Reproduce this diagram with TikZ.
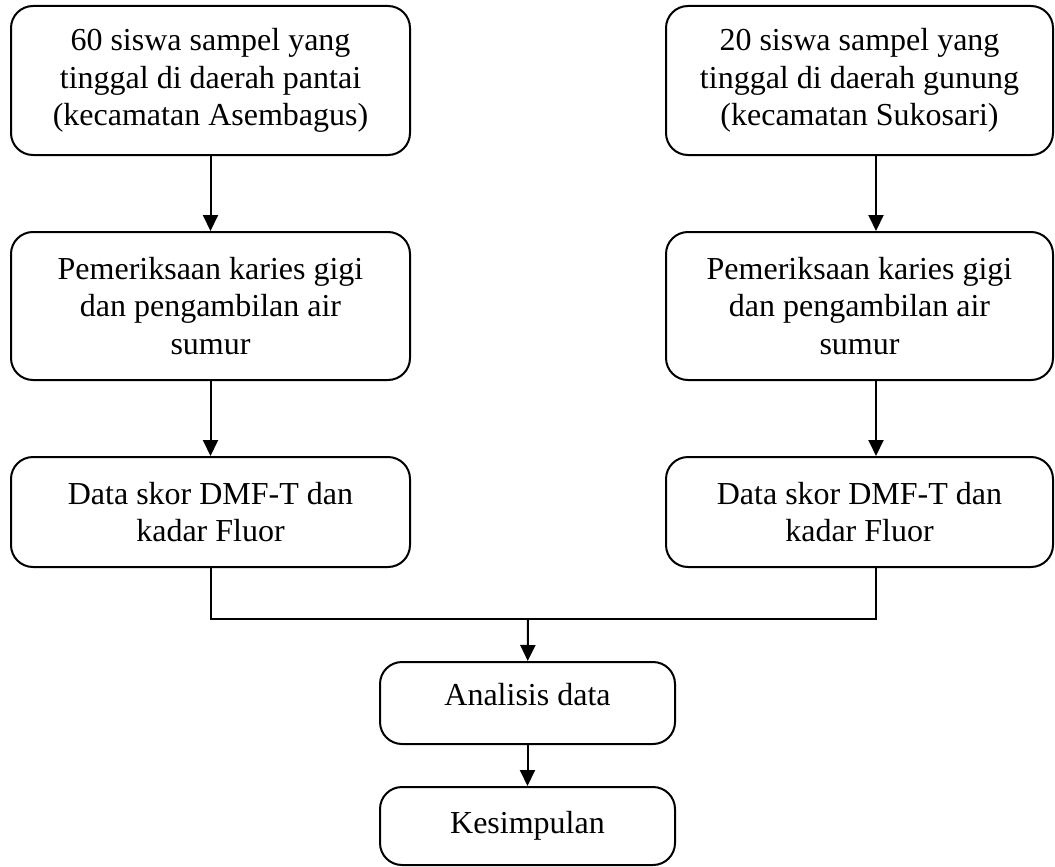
\documentclass[tikz,border=0pt]{standalone}
\usepackage{fontspec}
\setmainfont{Liberation Serif}
\usetikzlibrary{positioning,arrows.meta,calc}

\begin{document}
\begin{tikzpicture}[x=1pt,y=1pt,
  box/.style={draw,line width=2pt,rounded corners=22pt,align=center,
    inner sep=0pt,font=\fontsize{32}{37.5}\selectfont},
  flow/.style={line width=2pt,-{Triangle[length=16pt,width=15pt]}}]
\useasboundingbox (0,0) rectangle (1055,-867);

\pgfmathsetmacro{\lx}{210.5}
\pgfmathsetmacro{\rx}{859.5}

% Left column
\node[box,minimum width=399pt,minimum height=149pt] (L1) at (\lx,-80.5)
  {60 siswa sampel yang\\tinggal di daerah pantai\\(kecamatan Asembagus)};
\node[box,minimum width=399pt,minimum height=148pt] (L2) at (\lx,-306)
  {Pemeriksaan karies gigi\\dan pengambilan air\\sumur};
\node[box,minimum width=399pt,minimum height=110pt] (L3) at (\lx,-512)
  {Data skor DMF-T dan\\kadar Fluor};

% Right column
\node[box,minimum width=387pt,minimum height=149pt] (R1) at (\rx,-80.5)
  {20 siswa sampel yang\\tinggal di daerah gunung\\(kecamatan Sukosari)};
\node[box,minimum width=387pt,minimum height=148pt] (R2) at (\rx,-306)
  {Pemeriksaan karies gigi\\dan pengambilan air\\sumur};
\node[box,minimum width=387pt,minimum height=110pt] (R3) at (\rx,-512)
  {Data skor DMF-T dan\\kadar Fluor};

% Bottom
\node[box,minimum width=295pt,minimum height=82pt,text depth=18pt] (AD) at (527.5,-703) {Analisis data};
\node[box,minimum width=295pt,minimum height=78pt] (K) at (527.5,-826) {Kesimpulan};

\coordinate (RC) at (876,0);
\coordinate (J) at (528,-619);

% Connectors
\draw[flow] (L1) -- (L2);
\draw[flow] (L2) -- (L3);
\draw[flow] (RC |- R1.south) -- (RC |- R2.north);
\draw[flow] (RC |- R2.south) -- (RC |- R3.north);
\draw[line width=2pt] (L3.south) |- (J) -| (RC |- R3.south);
\draw[flow] (J) -- (AD);
\draw[flow] (AD) -- (K);

\end{tikzpicture}
\end{document}
